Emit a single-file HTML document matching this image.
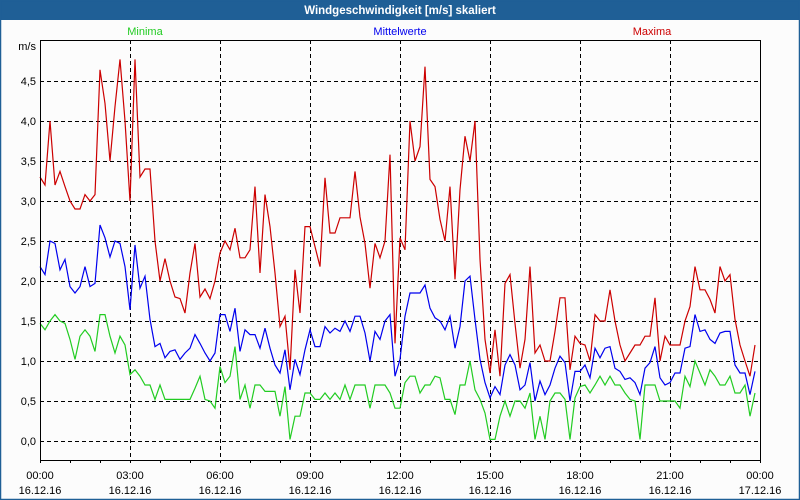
<!DOCTYPE html>
<html><head><meta charset="utf-8"><style>
html,body{margin:0;padding:0;background:#fcfcfc;}
svg{display:block;font-family:"Liberation Sans",sans-serif;}
</style></head><body>
<svg id="c" width="800" height="500" viewBox="0 0 800 500">
<rect x="0" y="0" width="800" height="500" fill="#fcfcfc"/>
<rect x="0" y="0" width="800" height="20" fill="#1f5f96"/>
<rect x="0.5" y="0.5" width="799" height="499" fill="none" stroke="#1f5f96" stroke-width="1.5"/>
<text x="400" y="14" fill="#fff" font-size="11.5" font-weight="bold" text-anchor="middle">Windgeschwindigkeit [m/s] skaliert</text>
<text x="145" y="35" fill="#22cc22" font-size="11" text-anchor="middle">Minima</text>
<text x="400" y="35" fill="#0000ee" font-size="11" text-anchor="middle">Mittelwerte</text>
<text x="652" y="35" fill="#cc0000" font-size="11" text-anchor="middle">Maxima</text>
<text x="36" y="50" fill="#000" font-size="11" text-anchor="end">m/s</text>
<g id="grid"></g><g id="series"></g><g id="axes"></g>
</svg>
<script>
const yTicks=[0,0.5,1,1.5,2,2.5,3,3.5,4,4.5];
const yTickLabels=["0,0","0,5","1,0","1,5","2,0","2,5","3,0","3,5","4,0","4,5"];
const xTickHours=[0,3,6,9,12,15,18,21,24];
const xTimeLabels=["00:00","03:00","06:00","09:00","12:00","15:00","18:00","21:00","00:00"];
const xDateLabels=["16.12.16","16.12.16","16.12.16","16.12.16","16.12.16","16.12.16","16.12.16","16.12.16","17.12.16"];
const maxima=[3.3,3.2,4.0,3.2,3.37,3.18,3.0,2.9,2.9,3.08,3.0,3.08,4.64,4.22,3.5,4.18,4.77,4.0,3.0,4.77,3.3,3.4,3.4,2.5,2.0,2.28,2.0,1.8,1.78,1.6,2.1,2.47,1.8,1.9,1.78,2.0,2.35,
2.5,2.39,2.66,2.29,2.29,2.39,3.18,2.1,3.08,2.68,2.1,1.43,1.56,0.89,2.14,1.6,2.68,2.68,2.43,2.18,3.29,2.6,2.6,2.79,2.79,2.79,3.37,2.8,2.47,1.91,2.47,2.29,2.5,3.58,1.22,2.54,
2.39,4.0,3.5,3.68,4.68,3.27,3.18,2.77,2.5,3.18,2.02,3.14,3.81,3.5,4.0,2.27,1.27,0.85,1.39,0.81,1.97,2.08,1.47,0.91,1.27,2.18,1.1,1.2,1.0,1.0,1.37,1.79,1.79,0.89,1.31,1.22,
1.2,1.0,1.58,1.5,1.5,1.89,1.5,1.2,1.0,1.1,1.2,1.2,1.31,1.31,1.79,1.0,1.31,1.2,1.2,1.2,1.5,1.68,2.18,1.89,1.89,1.77,1.6,2.18,2.0,2.08,1.52,1.2,1.0,0.81,1.2];
const mittel=[2.18,2.08,2.5,2.47,2.14,2.27,1.93,1.85,1.93,2.18,1.93,1.97,2.7,2.54,2.3,2.5,2.47,2.18,1.64,2.45,1.91,2.06,1.52,1.18,1.22,1.04,1.12,1.14,1.02,1.1,1.16,1.33,1.22,1.1,1.0,1.1,1.58,
1.58,1.37,1.66,1.12,1.39,1.33,1.33,1.16,1.41,1.16,0.95,0.85,1.14,0.64,1.02,0.83,1.14,1.39,1.18,1.18,1.43,1.35,1.41,1.37,1.5,1.37,1.56,1.56,1.35,1.0,1.37,1.27,1.5,1.58,0.81,1.02,
1.56,1.85,1.85,1.85,1.95,1.66,1.54,1.5,1.39,1.56,1.16,1.43,2.0,2.06,1.52,1.02,0.73,0.54,0.68,0.58,0.95,1.08,0.95,0.64,0.7,0.98,0.5,0.75,0.58,0.7,0.91,1.06,0.98,0.5,0.87,0.87,
0.95,0.79,1.16,1.04,1.16,1.18,0.91,0.87,0.77,0.79,0.73,0.58,0.91,0.98,1.18,0.79,0.7,0.73,0.85,0.85,1.16,1.18,1.58,1.37,1.39,1.27,1.22,1.35,1.37,1.37,0.95,0.85,0.85,0.58,0.87];
const minima=[1.47,1.39,1.5,1.58,1.5,1.47,1.27,1.02,1.31,1.39,1.31,1.12,1.58,1.58,1.31,1.1,1.31,1.2,0.83,0.89,0.81,0.7,0.7,0.52,0.7,0.52,0.52,0.52,0.52,0.52,0.52,0.66,0.81,0.52,0.5,0.41,0.93,
0.73,0.81,1.18,0.52,0.7,0.41,0.7,0.7,0.62,0.62,0.62,0.31,0.68,0.02,0.31,0.31,0.6,0.6,0.52,0.52,0.6,0.52,0.6,0.52,0.7,0.52,0.7,0.7,0.7,0.41,0.7,0.7,0.7,0.6,0.41,0.41,
0.73,0.81,0.81,0.6,0.7,0.7,0.81,0.79,0.52,0.52,0.33,0.7,0.7,1.0,0.64,0.52,0.35,0.02,0.02,0.31,0.5,0.31,0.5,0.5,0.41,0.6,0.02,0.31,0.02,0.5,0.6,0.6,0.52,0.02,0.54,0.68,
0.7,0.6,0.7,0.81,0.7,0.81,0.7,0.7,0.6,0.52,0.5,0.02,0.7,0.7,0.7,0.5,0.5,0.5,0.5,0.41,0.81,0.68,1.0,0.85,0.7,0.89,0.81,0.7,0.7,0.81,0.6,0.6,0.7,0.31,0.6];
const NS="http://www.w3.org/2000/svg";
const L=40,R=760,T=40,B=460;
function xs(h){return L+(h/24)*(R-L);}
function ys(v){return 441-80*v;}
function mk(tag,attrs,parent){const e=document.createElementNS(NS,tag);for(const k in attrs)e.setAttribute(k,attrs[k]);parent.appendChild(e);return e;}
const grid=document.getElementById('grid'),axes=document.getElementById('axes'),ser=document.getElementById('series');
yTicks.forEach((v,i)=>{
  const l=mk('line',{x1:L,x2:R,y1:ys(v)+0.5,y2:ys(v)+0.5,stroke:'#000','stroke-dasharray':'4,3','stroke-width':1},grid);
  
  
  const t=mk('text',{x:36,y:ys(v)+4,'font-size':11,'text-anchor':'end',fill:'#000'},axes);
  t.textContent=yTickLabels[i];
  
  
});
xTickHours.forEach((h,i)=>{
  if(h>0&&h<24){const l=mk('line',{x1:xs(h)+0.5,x2:xs(h)+0.5,y1:T,y2:B,stroke:'#000','stroke-dasharray':'4,3','stroke-width':1},grid);
  
  }
  const t=mk('text',{x:xs(h),y:479,'font-size':11,'text-anchor':'middle',fill:'#000'},axes);
  t.textContent=xTimeLabels[i];
  
  
  const d=mk('text',{x:xs(h),y:494,'font-size':11,'text-anchor':'middle',fill:'#000'},axes);
  d.textContent=xDateLabels[i];
  
  
});
for(let h=0;h<=24;h++){const l=mk('line',{x1:xs(h)+0.5,x2:xs(h)+0.5,y1:B,y2:B+3,stroke:'#000'},axes);
  
  }
const fr=mk('path',{d:`M${L+0.5},${B+0.5}V${T+0.5}H${R+0.5}V${B+0.5}M${L},${B+0.5}H${R+1}`,fill:'none',stroke:'#000','stroke-width':1},axes);


function line(arr,color,name){
  const pts=arr.map((v,i)=>xs(i/6).toFixed(1)+','+ys(v).toFixed(1)).join(' ');
  const p=mk('polyline',{points:pts,fill:'none',stroke:color,'stroke-width':1.2},ser);
  
  
}
line(minima,'#22cc22','minima-line');
line(mittel,'#0000ee','mittelwerte-line');
line(maxima,'#cc0000','maxima-line');
</script>
</body></html>
